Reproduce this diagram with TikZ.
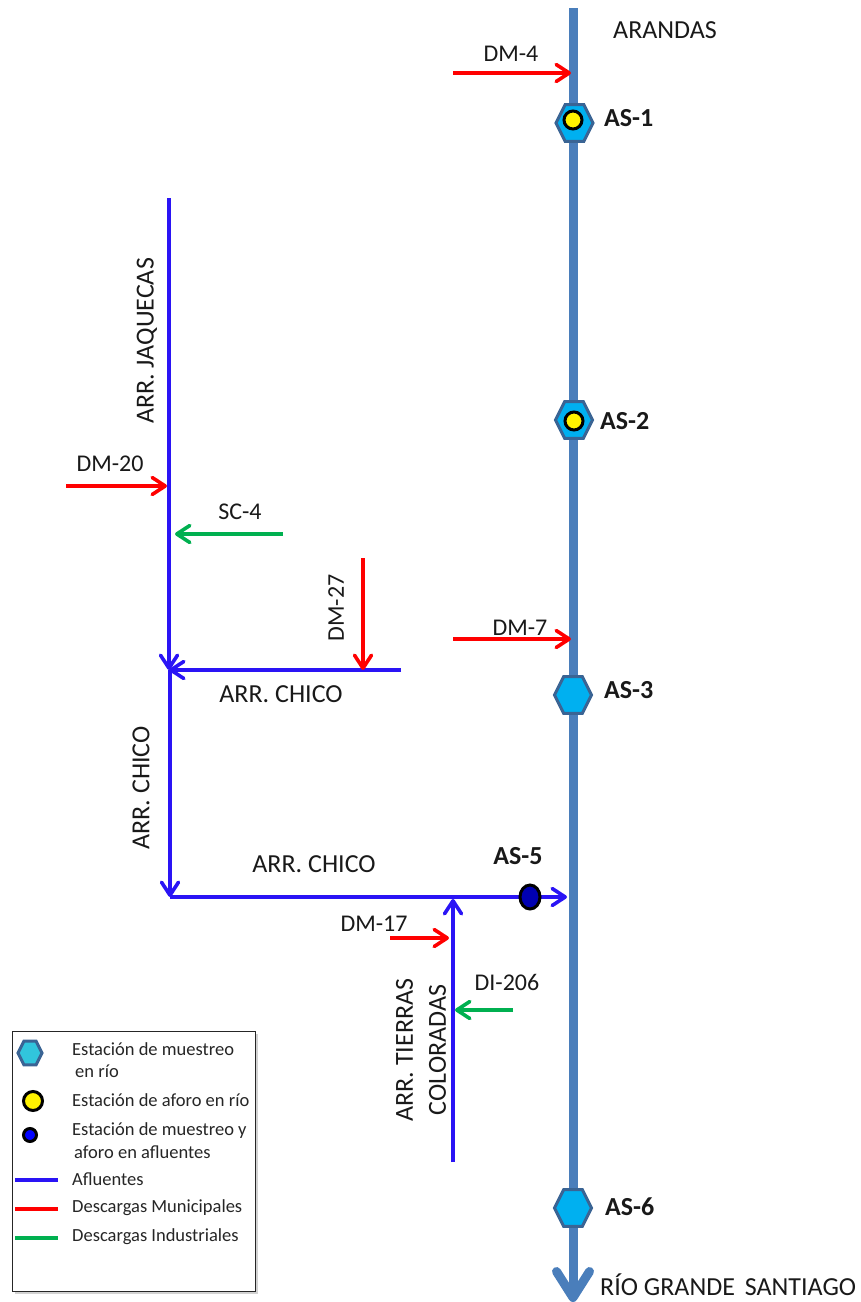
\documentclass[tikz,border=0pt]{standalone}
\usepackage{fontspec}
\setmainfont{Carlito}
\usetikzlibrary{arrows.meta,shapes.geometric,shadows}
\definecolor{river}{HTML}{4A7EBB}
\definecolor{hexline}{HTML}{3A6494}
\definecolor{hexfill}{HTML}{00B0F0}
\definecolor{leghex}{HTML}{31C5DC}
\definecolor{aflu}{HTML}{2A14F5}
\definecolor{mun}{HTML}{FF0000}
\definecolor{ind}{HTML}{00B050}
\tikzset{
  x=1pt,y=-1pt,
  lbl/.style={inner sep=0pt,font=\fontsize{26}{30}\selectfont,text=black!90},
  sml/.style={lbl,font=\fontsize{24}{28}\selectfont},
  lbll/.style={lbl,anchor=west},
  stn/.style={lbl,anchor=west,font=\fontsize{26}{30}\selectfont\bfseries},
  leg/.style={inner sep=0pt,anchor=west,font=\fontsize{18.5}{22}\selectfont,text=black!85},
  hexa/.style={regular polygon,regular polygon sides=6,inner sep=0pt,outer sep=0pt,minimum size=37pt,yscale=1.15,draw=hexline,line width=3pt,fill=hexfill},
  gauge/.style={circle,inner sep=0pt,minimum size=18pt,draw=black,line width=3pt,fill=yellow},
  tribst/.style={ellipse,inner sep=0pt,minimum width=20pt,minimum height=24pt,draw=black,line width=3pt,fill=blue!70!black},
  tip/.style={-{Straight Barb[length=13pt,width=17pt,round,line width=3.6pt]}},
  afl/.style={aflu,line width=3.4pt,tip},
  munl/.style={mun,line width=3.4pt,tip},
  indl/.style={ind,line width=3.4pt,tip},
  keyline/.style={line width=4pt}
}
\begin{document}
\begin{tikzpicture}
\useasboundingbox (0,0) rectangle (860,1302);
% river
\coordinate (rtop) at (573,8);
\coordinate (rend) at (573,1302);
\draw[river,line width=9pt,-{Straight Barb[length=26pt,width=33pt,round]}] (rtop) -- (rend);
% stations
\node[hexa] (as1) at (574.5,123) {};
\node[gauge] (g1) at (573,120) {};
\node[hexa] (as2) at (574,420) {};
\node[gauge] (g2) at (574,421) {};
\node[hexa] (as3) at (573,695) {};
\node[hexa] (as6) at (573,1208) {};
\node[stn] (l1) at (604,118) {AS-1};
\node[stn] (l2) at (600,421) {AS-2};
\node[stn] (l3) at (604,690) {AS-3};
\node[stn] (l6) at (605,1207) {AS-6};
\node[lbll] (ar) at (613,30) {ARANDAS};
\node[lbll] (rg) at (600,1285) {RÍO GRANDE\hspace{4pt} SANTIAGO};
% DM-4, DM-7
\coordinate (d4a) at (453,73); \coordinate (d4b) at (571,73);
\draw[munl] (d4a) -- (d4b);
\node[sml] (d4) at (511,54) {DM-4};
\coordinate (d7a) at (453,639); \coordinate (d7b) at (571,639);
\draw[munl] (d7a) -- (d7b);
\node[sml] (d7) at (520,628) {DM-7};
% Jaquecas
\coordinate (jt) at (169,198); \coordinate (jn) at (169,670);
\draw[afl] (jt) -- (jn);
\node[lbl,rotate=90] (jq) at (147,341) {ARR. JAQUECAS};
\coordinate (d20a) at (66,486); \coordinate (d20b) at (167,486);
\draw[munl] (d20a) -- (d20b);
\node[sml] (d20) at (110,464) {DM-20};
\coordinate (sa) at (283,534); \coordinate (sb) at (175,534);
\draw[indl] (sa) -- (sb);
\node[sml] (sc) at (240,512) {SC-4};
% Arr. Chico upper
\coordinate (cha) at (401,670);
\draw[afl] (cha) -- (jn);
\node[lbl] (c1) at (281,694) {ARR. CHICO};
\coordinate (d27a) at (363,558); \coordinate (d27b) at (363,670);
\draw[munl] (d27a) -- (d27b);
\node[sml,rotate=90] (d27) at (336,608) {DM-27};
% Arr. Chico vertical and lower
\coordinate (cor) at (170,897); \coordinate (cend) at (567,897);
\coordinate (cst) at (170,670);
\draw[afl] (cst) -- (cor);
\draw[afl] (cor) -- (cend);
\node[lbl,rotate=90] (c2) at (141,788) {ARR. CHICO};
\node[lbl] (c3) at (314,864) {ARR. CHICO};
\node[tribst] (as5) at (530,897) {};
\node[stn,anchor=center] (l5) at (518,856) {AS-5};
% Tierras Coloradas
\coordinate (ta) at (453,1162); \coordinate (tb) at (453,899);
\draw[afl] (ta) -- (tb);
\node[lbl,rotate=90,align=center,font=\fontsize{26}{33}\selectfont] (tc) at (421,1050) {ARR. TIERRAS\\COLORADAS};
\coordinate (d17a) at (390,938); \coordinate (d17b) at (449,938);
\draw[munl] (d17a) -- (d17b);
\node[sml] (d17) at (374,924) {DM-17};
\coordinate (d206a) at (513,1010); \coordinate (d206b) at (455,1010);
\draw[indl] (d206a) -- (d206b);
\node[sml] (d206) at (507,982) {DI-206};
% legend
\node[draw=black!85,line width=1.2pt,fill=white,minimum width=243pt,minimum height=260pt,inner sep=0pt,anchor=north west,drop shadow={shadow xshift=2pt,shadow yshift=-2pt,fill=black!35}] (box) at (12,1031) {};
\node[hexa,fill=leghex,minimum size=24pt] (k1) at (30,1053) {};
\node[gauge,minimum size=19pt] (k2) at (33,1101) {};
\node[gauge,fill=blue,minimum size=13pt] (k3) at (30,1135) {};
\node[leg] (t1) at (72,1049) {Estación de muestreo};
\node[leg] (t1b) at (75,1071) {en río};
\node[leg] (t2) at (72,1100) {Estación de aforo en río};
\node[leg] (t3) at (72,1131) {Estación de muestreo y};
\node[leg] (t3b) at (74,1152) {aforo  en afluentes};
\node[leg] (t4) at (72,1179) {Afluentes};
\node[leg] (t5) at (72,1208) {Descargas Municipales};
\node[leg] (t6) at (72,1237) {Descargas Industriales};
\coordinate (a1) at (15,1180); \coordinate (a2) at (58,1180);
\coordinate (b1) at (15,1209); \coordinate (b2) at (58,1209);
\coordinate (c1k) at (15,1238); \coordinate (c2k) at (58,1238);
\draw[keyline,aflu] (a1) -- (a2);
\draw[keyline,mun] (b1) -- (b2);
\draw[keyline,ind] (c1k) -- (c2k);
\end{tikzpicture}
\end{document}
